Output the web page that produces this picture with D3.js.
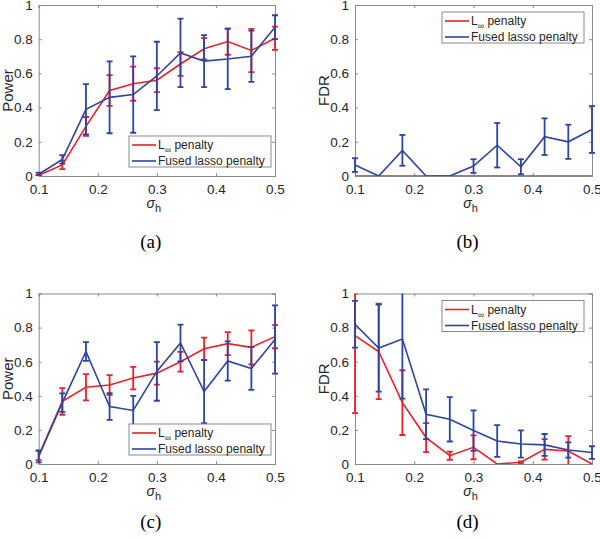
<!DOCTYPE html>
<html>
<head>
<meta charset="utf-8">
<script src="https://cdn.jsdelivr.net/npm/d3@7"></script>
<style>
  html, body { margin: 0; padding: 0; background: #fff; }
  svg { display: block; }
</style>
</head>
<body>
<svg id="chart" width="600" height="539"></svg>
<script>
// ---------------- data ----------------
const sigma = [0.10, 0.14, 0.18, 0.22, 0.26, 0.30, 0.34, 0.38, 0.42, 0.46, 0.50];
const xTicks = [0.1, 0.2, 0.3, 0.4, 0.5];
const yTicks = [0, 0.2, 0.4, 0.6, 0.8, 1];
const seriesNames = ["L∞ penalty", "Fused lasso penalty"];

// (a) Power
const aRed     = [0.005, 0.065, 0.29, 0.50, 0.54, 0.56, 0.655, 0.744, 0.786, 0.734, 0.806];
const aRedErr  = [0.005, 0.025, 0.055, 0.09, 0.10, 0.07, 0.07, 0.062, 0.077, 0.126, 0.068];
const aBlue    = [0.01, 0.097, 0.39, 0.46, 0.476, 0.585, 0.72, 0.672, 0.684, 0.70, 0.87];
const aBlueErr = [0.01, 0.025, 0.147, 0.21, 0.223, 0.20, 0.20, 0.152, 0.176, 0.15, 0.07];

// (b) FDR
const bRed     = [0, 0, 0, 0, 0, 0, 0, 0, 0, 0, 0];
const bRedErr  = [0, 0, 0, 0, 0, 0, 0, 0, 0, 0, 0];
const bBlue    = [0.064, 0, 0.15, 0, 0, 0.058, 0.18, 0.054, 0.23, 0.20, 0.272];
const bBlueErr = [0.04, 0, 0.09, 0, 0, 0.04, 0.13, 0.044, 0.107, 0.10, 0.137];

// (c) Power
const cRed     = [0.05, 0.367, 0.45, 0.463, 0.504, 0.533, 0.60, 0.676, 0.706, 0.684, 0.747];
const cRedErr  = [0.027, 0.078, 0.077, 0.058, 0.066, 0.068, 0.058, 0.065, 0.067, 0.10, 0.068];
const cBlue    = [0.045, 0.36, 0.66, 0.337, 0.314, 0.543, 0.71, 0.425, 0.604, 0.56, 0.73];
const cBlueErr = [0.035, 0.054, 0.055, 0.078, 0.086, 0.172, 0.108, 0.185, 0.115, 0.125, 0.20];

// (d) FDR
const dRed     = [0.753, 0.66, 0.36, 0.155, 0.049, 0.098, 0.0, 0.01, 0.086, 0.076, 0.0];
const dRedErr  = [0.455, 0.28, 0.19, 0.085, 0.024, 0.07, 0, 0.005, 0.06, 0.088, 0];
const dBlue    = [0.82, 0.68, 0.733, 0.292, 0.262, 0.196, 0.135, 0.117, 0.112, 0.082, 0.067];
const dBlueErr = [0.137, 0.255, 0.35, 0.146, 0.13, 0.119, 0.093, 0.08, 0.064, 0.045, 0.037];

// ---------------- style ----------------
const RED = "#e8212b";
const BLUE = "#2d459c";
const AXIS = "#8a8a8a";
const TXT = "#262626";
const FONT = "'Liberation Sans', Arial, Helvetica, sans-serif";

const panels = [
  { id: "a", x0: 38.7, x1: 275, y0: 5, y1: 176, ylabel: "Power", red: aRed, redErr: aRedErr, blue: aBlue, blueErr: aBlueErr, legend: "se", caption: "(a)", capY: 248 },
  { id: "b", x0: 355, x1: 592, y0: 5, y1: 176, ylabel: "FDR", red: bRed, redErr: bRedErr, blue: bBlue, blueErr: bBlueErr, legend: "ne", caption: "(b)", capY: 248 },
  { id: "c", x0: 38.7, x1: 275, y0: 293.5, y1: 464, ylabel: "Power", red: cRed, redErr: cRedErr, blue: cBlue, blueErr: cBlueErr, legend: "se", caption: "(c)", capY: 528 },
  { id: "d", x0: 355, x1: 592, y0: 293.5, y1: 464, ylabel: "FDR", red: dRed, redErr: dRedErr, blue: dBlue, blueErr: dBlueErr, legend: "ne", caption: "(d)", capY: 528 }
];

const svg = d3.select("#chart");

panels.forEach(p => {
  const x = d3.scaleLinear().domain([0.1, 0.5]).range([p.x0, p.x1]);
  const y = d3.scaleLinear().domain([0, 1]).range([p.y1, p.y0]);
  const g = svg.append("g");
  const tl = 3;

  // clip
  const clipId = "clip-" + p.id;
  svg.append("defs").append("clipPath").attr("id", clipId)
    .append("rect").attr("x", p.x0 - 4).attr("y", p.y0).attr("width", p.x1 - p.x0 + 8).attr("height", p.y1 - p.y0);

  // axes (box with inward ticks on all sides)
  const axB = d3.axisBottom(x).tickValues(xTicks).tickFormat(d3.format(".1f")).tickSize(-tl).tickPadding(8);
  const axT = d3.axisTop(x).tickValues(xTicks).tickFormat("").tickSize(-tl);
  const axL = d3.axisLeft(y).tickValues(yTicks).tickFormat(d => d === 0 || d === 1 ? d3.format("d")(d) : d3.format(".1f")(d)).tickSize(-tl).tickPadding(6);
  const axR = d3.axisRight(y).tickValues(yTicks).tickFormat("").tickSize(-tl);

  const gb = g.append("g").attr("transform", `translate(0,${p.y1})`).call(axB);
  const gt = g.append("g").attr("transform", `translate(0,${p.y0})`).call(axT);
  const gl = g.append("g").attr("transform", `translate(${p.x0},0)`).call(axL);
  const gr = g.append("g").attr("transform", `translate(${p.x1},0)`).call(axR);
  [gb, gt, gl, gr].forEach(a => {
    a.select(".domain").attr("stroke", AXIS).attr("stroke-width", 1);
    a.selectAll(".tick line").attr("stroke", AXIS).attr("stroke-width", 1);
    a.selectAll(".tick text").attr("fill", TXT).style("font-family", FONT).style("font-size", "13.5px");
  });
  gb.selectAll(".tick text").attr("dy", "0.71em");

  // y label
  g.append("text")
    .attr("transform", `translate(${p.x0 - 26},${(p.y0 + p.y1) / 2}) rotate(-90)`)
    .attr("text-anchor", "middle")
    .attr("fill", TXT)
    .style("font-family", FONT).style("font-size", "15px")
    .text(p.ylabel);

  // x label sigma_h
  const xl = g.append("text")
    .attr("x", (p.x0 + p.x1) / 2 - 3)
    .attr("y", p.y1 + 32)
    .attr("text-anchor", "middle")
    .attr("fill", TXT)
    .style("font-family", FONT);
  xl.append("tspan").style("font-size", "14px").style("font-style", "italic").text("σ");
  xl.append("tspan").style("font-size", "11px").attr("dy", 4).text("h");

  // caption
  g.append("text")
    .attr("x", (p.x0 + p.x1) / 2 - 6)
    .attr("y", p.capY)
    .attr("text-anchor", "middle")
    .attr("fill", "#000")
    .style("font-family", "'Liberation Serif', 'Times New Roman', serif")
    .style("font-size", "19px")
    .text(p.caption);

  // data
  const plot = g.append("g").attr("clip-path", `url(#${clipId})`);
  const line = d3.line().x((d, i) => x(sigma[i])).y(d => y(d));
  const series = [
    { vals: p.red, err: p.redErr, color: RED },
    { vals: p.blue, err: p.blueErr, color: BLUE }
  ];
  series.forEach(s => {
    plot.append("path").datum(s.vals).attr("d", line)
      .attr("fill", "none").attr("stroke", s.color).attr("stroke-width", 1.6);
    const cap = 3;
    s.vals.forEach((v, i) => {
      const e = s.err[i];
      if (!(e > 0)) return;
      const cx = x(sigma[i]);
      const top = y(v + e), bot = y(v - e);
      const eg = plot.append("g").attr("stroke", s.color).attr("stroke-width", 1.8).attr("fill", "none");
      eg.append("line").attr("x1", cx).attr("x2", cx).attr("y1", top).attr("y2", bot);
      eg.append("line").attr("x1", cx - cap).attr("x2", cx + cap).attr("y1", top).attr("y2", top);
      eg.append("line").attr("x1", cx - cap).attr("x2", cx + cap).attr("y1", bot).attr("y2", bot);
    });
  });

  // legend
  const lw = 142, lh = 31;
  let lx, ly;
  if (p.legend === "se") { lx = p.x1 - 4 - lw; ly = p.y1 - 9 - lh; }
  else { lx = p.x1 - 8 - lw; ly = p.y0 + 7; }
  const lg = g.append("g").attr("transform", `translate(${lx},${ly})`);
  lg.append("rect").attr("x", 0).attr("y", 0).attr("width", lw).attr("height", lh)
    .attr("fill", "#fff").attr("stroke", AXIS).attr("stroke-width", 1);
  [RED, BLUE].forEach((c, k) => {
    const ry = 9 + k * 16;
    lg.append("line").attr("x1", 3).attr("x2", 27).attr("y1", ry).attr("y2", ry)
      .attr("stroke", c).attr("stroke-width", 1.6);
    const t = lg.append("text").attr("x", 29).attr("y", ry + 4.3)
      .attr("fill", TXT).style("font-family", FONT).style("font-size", "12px");
    if (k === 0) {
      t.append("tspan").text("L");
      t.append("tspan").attr("dy", 4).style("font-size", "9px").text("∞");
      t.append("tspan").attr("dy", -4).text(" penalty");
    } else {
      t.text(seriesNames[1]);
    }
  });
});
</script>
</body>
</html>
